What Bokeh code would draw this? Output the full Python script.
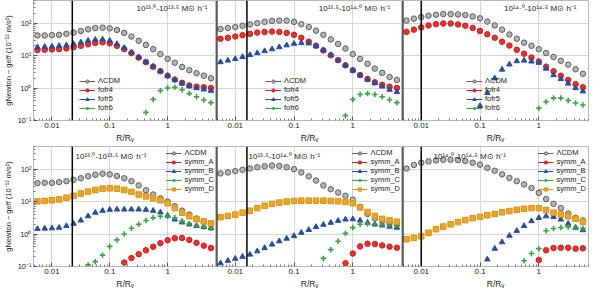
from bokeh.plotting import figure
from bokeh.layouts import column, row
from bokeh.models import FixedTicker, CustomJSTickFormatter, Span, Label, Legend, LegendItem
from bokeh.embed import file_html
from bokeh.resources import INLINE

n = float("nan")

# radial bins (R / R_v)
r_rv = [0.00562, 0.0075, 0.01, 0.0133, 0.0178, 0.0237, 0.0316, 0.0422, 0.0562, 0.075,
        0.1, 0.133, 0.178, 0.237, 0.316, 0.422, 0.562, 0.75, 1.0, 1.33, 1.78, 2.37, 3.16, 4.22, 5.62]

mass_bins = ["10¹³·⁰-10¹³·⁵ M⊙ h⁻¹", "10¹³·⁵-10¹⁴·⁰ M⊙ h⁻¹", "10¹⁴·⁰-10¹⁴·⁵ M⊙ h⁻¹"]
res_limit = [0.0225, 0.0158, 0.0100]

x_major = [0.01, 0.1, 1]
y_major = [0.1, 1, 10, 100]
X_LO, X_HI = 0.0048, 7.0
Y_LO, Y_HI = 0.1, 500

# ---- top row: f(R) models ----
lcdm_f1 = [41.7, 41.7, 42.7, 43.7, 46.8, 51.3, 57.5, 64.6, 70.8, 72.4, 69.2, 61.7, 50.1, 38.9, 28.8, 21.4, 15.8, 11.2, 7.94, 6.03, 4.47, 3.55, 2.88, 2.40, 2.00]
fofr4_1 = [14.8, 15.1, 15.5, 15.8, 16.6, 18.2, 20.0, 22.4, 24.5, 25.7, 24.0, 20.0, 15.8, 12.0, 8.71, 6.31, 4.57, 3.31, 2.40, 1.82, 1.45, 1.20, 1.10, 1.05, 1.00]
fofr5_1 = [18.2, 18.6, 19.1, 20.0, 20.9, 22.9, 25.7, 28.8, 30.9, 31.6, 28.8, 22.9, 17.4, 12.6, 8.91, 6.31, 4.57, 3.31, 2.40, 1.78, 1.38, 1.15, 1.00, 0.91, 0.83]
fofr6_1 = [n, n, n, n, n, n, n, n, n, n, n, n, n, n, n, 0.178, 0.447, 0.832, 1.00, 1.05, 0.891, 0.676, 0.537, 0.427, 0.355]

lcdm_f2 = [66.1, 70.8, 75.9, 83.2, 91.2, 100, 110, 117, 120, 120, 110, 93.3, 75.9, 58.9, 43.7, 31.6, 22.9, 16.6, 11.2, 7.94, 5.62, 3.98, 2.95, 2.19, 1.78]
fofr4_2 = [33.1, 35.5, 38.9, 42.7, 46.8, 51.3, 53.7, 55.0, 53.7, 50.1, 43.7, 35.5, 26.9, 20.0, 14.5, 10.2, 7.24, 5.01, 3.55, 2.51, 1.91, 1.51, 1.26, 1.10, 1.00]
fofr5_2 = [6.31, 7.08, 7.94, 9.12, 10.5, 12.0, 13.8, 15.8, 18.2, 20.9, 23.4, 24.5, 24.0, 20.0, 14.8, 10.5, 7.24, 5.01, 3.47, 2.45, 1.82, 1.41, 1.12, 0.891, 0.759]
fofr6_2 = [n, n, n, n, n, n, n, n, n, n, n, n, n, n, n, n, n, 0.141, 0.447, 0.631, 0.676, 0.631, 0.537, 0.437, 0.355]

lcdm_f3 = [120, 138, 155, 170, 182, 191, 191, 186, 178, 162, 141, 112, 85.1, 63.1, 44.7, 33.1, 25.1, 20.0, 15.8, 12.0, 9.12, 6.92, 5.25, 3.80, 2.75]
fofr4_3 = [53.7, 63.1, 74.1, 85.1, 93.3, 97.7, 97.7, 91.2, 83.2, 70.8, 57.5, 45.7, 35.5, 26.9, 20.4, 15.1, 11.5, 8.71, 6.61, 4.57, 3.31, 2.40, 1.78, 1.32, 1.05]
fofr5_3 = [n, n, n, n, n, n, n, n, n, n, 0.282, 0.708, 2.00, 3.72, 5.37, 6.76, 7.08, 6.61, 6.03, 3.98, 2.51, 1.91, 1.38, 1.00, 0.794]
fofr6_3 = [n, n, n, n, n, n, n, n, n, n, n, n, n, n, n, n, n, n, 0.240, 0.380, 0.490, 0.490, 0.417, 0.347, 0.302]

# ---- bottom row: symmetron models ----
lcdm_s1 = [37.2, 38.0, 38.0, 39.8, 42.7, 46.8, 52.5, 60.3, 67.6, 72.4, 69.2, 61.7, 52.5, 42.7, 31.6, 22.4, 16.6, 12.6, 10.0, 7.24, 5.25, 3.98, 3.02, 2.40, 2.00]
symmA_1 = [n, n, n, n, n, n, n, n, n, n, n, n, 0.132, 0.182, 0.240, 0.316, 0.407, 0.525, 0.646, 0.741, 0.759, 0.661, 0.537, 0.437, 0.372]
symmB_1 = [1.45, 1.48, 1.51, 1.58, 1.78, 2.09, 2.63, 3.55, 4.57, 5.25, 5.62, 5.75, 5.75, 5.75, 5.75, 5.62, 5.25, 4.68, 3.72, 2.82, 2.29, 2.00, 1.78, 1.66, 1.51]
symmC_1 = [n, n, n, n, n, n, n, 0.112, 0.141, 0.224, 0.417, 0.661, 1.00, 1.51, 2.00, 2.63, 3.16, 3.55, 3.55, 3.16, 2.51, 2.09, 1.82, 1.66, 1.51]
symmD_1 = [10.2, 10.5, 11.0, 11.7, 13.2, 15.1, 17.8, 20.4, 22.9, 25.1, 25.7, 25.1, 22.9, 20.0, 16.6, 14.5, 12.6, 11.0, 8.91, 6.31, 4.57, 3.55, 2.88, 2.45, 2.14]

lcdm_s2 = [74.1, 79.4, 87.1, 95.5, 105, 115, 123, 129, 126, 115, 100, 79.4, 60.3, 44.7, 31.6, 24.0, 19.1, 15.1, 11.5, 6.92, 4.17, 3.02, 2.51, 2.19, 2.00]
symmA_2 = [n, n, n, n, n, n, n, n, n, n, n, n, n, n, n, n, n, 0.126, 0.251, 0.417, 0.501, 0.490, 0.447, 0.407, 0.380]
symmB_2 = [0.126, 0.151, 0.174, 0.200, 0.234, 0.295, 0.372, 0.479, 0.603, 0.724, 0.871, 1.10, 1.35, 1.66, 1.95, 2.24, 2.57, 2.82, 2.88, 2.63, 2.24, 2.00, 1.86, 1.70, 1.58]
symmC_2 = [n, n, n, n, n, n, n, n, n, n, n, n, n, n, 0.178, 0.331, 0.603, 1.05, 1.58, 2.00, 2.09, 2.00, 1.95, 1.86, 1.78]
symmD_2 = [3.31, 3.63, 3.98, 4.57, 5.25, 6.31, 7.41, 8.51, 9.33, 10.0, 10.5, 10.7, 10.7, 10.7, 10.7, 10.5, 10.2, 9.77, 8.91, 6.61, 4.79, 3.63, 2.95, 2.63, 2.40]

lcdm_s3 = [105, 135, 158, 174, 186, 195, 195, 191, 178, 158, 138, 110, 89.1, 69.2, 53.7, 42.7, 33.9, 26.3, 18.6, 12.0, 8.51, 6.31, 4.27, 3.16, 2.63]
symmA_3 = [n, n, n, n, n, n, n, n, n, n, n, n, n, n, n, n, n, n, 0.158, 0.316, 0.372, 0.380, 0.380, 0.355, 0.363]
symmB_3 = [n, n, n, n, n, n, n, n, n, n, n, 0.166, 0.355, 0.562, 0.891, 1.26, 1.78, 2.51, 3.16, 3.55, 3.39, 2.82, 2.09, 1.58, 1.32]
symmC_3 = [n, n, n, n, n, n, n, n, n, n, n, n, n, n, n, n, 0.151, 0.251, 0.355, 1.26, 1.48, 1.58, 1.66, 1.58, 1.51]
symmD_3 = [0.692, 0.759, 0.851, 1.10, 1.41, 1.70, 2.00, 2.34, 2.69, 3.09, 3.39, 3.80, 4.17, 4.68, 5.13, 5.62, 6.03, 6.31, 6.31, 5.50, 4.57, 3.98, 3.55, 2.95, 2.40]

# styles
ST_LCDM = dict(marker="circle", size=5.5, fill="#b4b4b4", line="#5e5e5e", lw=1)
ST_RED = dict(marker="circle", size=5.5, fill="#e8302c", line="#c42020", lw=1)
ST_BLUE = dict(marker="triangle", size=5.5, fill="#2a4c9e", line="#2a4c9e", lw=1)
ST_GREEN = dict(marker="cross", size=5.5, fill="#3aa244", line="#3aa244", lw=1.6)
ST_ORANGE = dict(marker="square", size=5.5, fill="#eaa52a", line="#d99212", lw=1)

x_minor = [m * d for d in (0.001, 0.01, 0.1, 1) for m in range(2, 10)]
y_minor = [m * d for d in (0.1, 1, 10, 100) for m in range(2, 10)]

FONT = "Liberation Sans"
PLOT_W = 186
PLOT_H = 120
BOTTOM = 26
LEFT = 30

x_fmt = CustomJSTickFormatter(code="""
if (tick >= 1) { return tick.toFixed(0); }
return String(Number(tick.toPrecision(1)));
""")
y_fmt = CustomJSTickFormatter(code="""
const e = Math.round(Math.log10(tick));
const sup = {"-": "\u207b", "0": "\u2070", "1": "\u00b9", "2": "\u00b2", "3": "\u00b3"};
return "10" + String(e).split("").map(c => sup[c]).join("");
""")


def panel(col, top, series, title, res):
    left = col == 0
    right = col == 2
    w = PLOT_W + (LEFT if left else 0) + (4 if right else 0)
    p = figure(width=w, height=PLOT_H + BOTTOM, x_axis_type="log", y_axis_type="log",
               x_range=(X_LO, X_HI), y_range=(Y_LO, Y_HI),
               output_backend="svg", toolbar_location=None,
               min_border_left=LEFT if left else 0, min_border_right=4 if right else 0,
               min_border_top=0, min_border_bottom=BOTTOM)
    p.background_fill_color = "white"
    p.outline_line_color = "#b8b8b8"
    p.outline_line_width = 1

    p.xaxis.ticker = FixedTicker(ticks=x_major, minor_ticks=x_minor)
    p.yaxis.ticker = FixedTicker(ticks=y_major, minor_ticks=y_minor)
    p.xaxis.formatter = x_fmt
    p.yaxis.formatter = y_fmt
    for ax in (p.xaxis, p.yaxis):
        ax.major_tick_in = 4
        ax.major_tick_out = 0
        ax.minor_tick_in = 2
        ax.minor_tick_out = 0
        ax.major_tick_line_color = "#555555"
        ax.minor_tick_line_color = "#777777"
        ax.major_label_text_font = FONT
        ax.major_label_text_font_size = "8px"
        ax.major_label_text_color = "#222222"
        ax.major_label_standoff = 2
    p.xaxis.axis_line_color = "#b8b8b8"
    p.xaxis.axis_label = "R/Rᵥ"
    p.xaxis.axis_label_text_font = FONT
    p.xaxis.axis_label_text_font_size = "8.5px"
    p.xaxis.axis_label_text_font_style = "normal"
    p.xaxis.axis_label_text_color = "#222222"
    p.xaxis.axis_label_standoff = 2

    if left:
        p.yaxis.axis_line_color = "#b8b8b8"
        p.yaxis.axis_label = "gNewton − geff (10⁻¹² m/s²)"
        p.yaxis.axis_label_text_font = FONT
        p.yaxis.axis_label_text_font_size = "7.5px"
        p.yaxis.axis_label_text_font_style = "normal"
        p.yaxis.axis_label_text_color = "#222222"
        p.yaxis.axis_label_standoff = 2
        p.yaxis.major_label_text_font_size = "7.5px"
    else:
        # no tick labels on inner panels; the shared border is drawn black
        p.yaxis.visible = False
        p.add_layout(Span(location=X_LO, dimension="height", line_color="black", line_width=2))

    p.grid.grid_line_color = "#d6d6d6"
    p.grid.grid_line_width = 1

    p.add_layout(Span(location=res, dimension="height", line_color="black", line_width=1.5))

    items = []
    for label, ys, st in series:
        ln = p.line(x=[n], y=[n], line_color=st["line"], line_width=1)
        sc = p.scatter(x=r_rv, y=ys, marker=st["marker"], size=st["size"],
                       fill_color=st["fill"], line_color=st["line"], line_width=st["lw"])
        items.append(LegendItem(label=label, renderers=[ln, sc]))

    if top:
        loc = [(46, 8), (49, 8), (64, 8)][col]
    else:
        loc = "top_right"
    leg = Legend(items=items, location=loc, background_fill_alpha=0, border_line_alpha=0,
                 padding=0, margin=2, spacing=0, glyph_width=16, glyph_height=8,
                 label_height=8, label_standoff=3, label_text_font=FONT,
                 label_text_font_size="7.5px", label_text_color="#222222")
    p.add_layout(leg)

    if top:
        lab = Label(x=PLOT_W - 12, y=PLOT_H - 8, x_units="screen", y_units="screen",
                    text=title, text_align="right", text_baseline="middle")
    else:
        lab = Label(x=[42, 32, 31][col], y=PLOT_H - 10, x_units="screen", y_units="screen",
                    text=title, text_align="left", text_baseline="middle")
    lab.text_font = FONT
    lab.text_font_size = "8px"
    lab.text_color = "#222222"
    p.add_layout(lab)
    return p


top_series = [
    [("ΛCDM", lcdm_f1, ST_LCDM), ("fofr4", fofr4_1, ST_RED), ("fofr5", fofr5_1, ST_BLUE), ("fofr6", fofr6_1, ST_GREEN)],
    [("ΛCDM", lcdm_f2, ST_LCDM), ("fofr4", fofr4_2, ST_RED), ("fofr5", fofr5_2, ST_BLUE), ("fofr6", fofr6_2, ST_GREEN)],
    [("ΛCDM", lcdm_f3, ST_LCDM), ("fofr4", fofr4_3, ST_RED), ("fofr5", fofr5_3, ST_BLUE), ("fofr6", fofr6_3, ST_GREEN)],
]
bottom_series = [
    [("ΛCDM", lcdm_s1, ST_LCDM), ("symm_A", symmA_1, ST_RED), ("symm_B", symmB_1, ST_BLUE), ("symm_C", symmC_1, ST_GREEN), ("symm_D", symmD_1, ST_ORANGE)],
    [("ΛCDM", lcdm_s2, ST_LCDM), ("symm_A", symmA_2, ST_RED), ("symm_B", symmB_2, ST_BLUE), ("symm_C", symmC_2, ST_GREEN), ("symm_D", symmD_2, ST_ORANGE)],
    [("ΛCDM", lcdm_s3, ST_LCDM), ("symm_A", symmA_3, ST_RED), ("symm_B", symmB_3, ST_BLUE), ("symm_C", symmC_3, ST_GREEN), ("symm_D", symmD_3, ST_ORANGE)],
]

top_row = [panel(i, True, top_series[i], mass_bins[i], res_limit[i]) for i in range(3)]
bot_row = [panel(i, False, bottom_series[i], mass_bins[i], res_limit[i]) for i in range(3)]

layout = column(row(*top_row, spacing=0), row(*bot_row, spacing=0), spacing=0)

with open("out.html", "w", encoding="utf-8") as f:
    f.write(file_html(layout, INLINE))
